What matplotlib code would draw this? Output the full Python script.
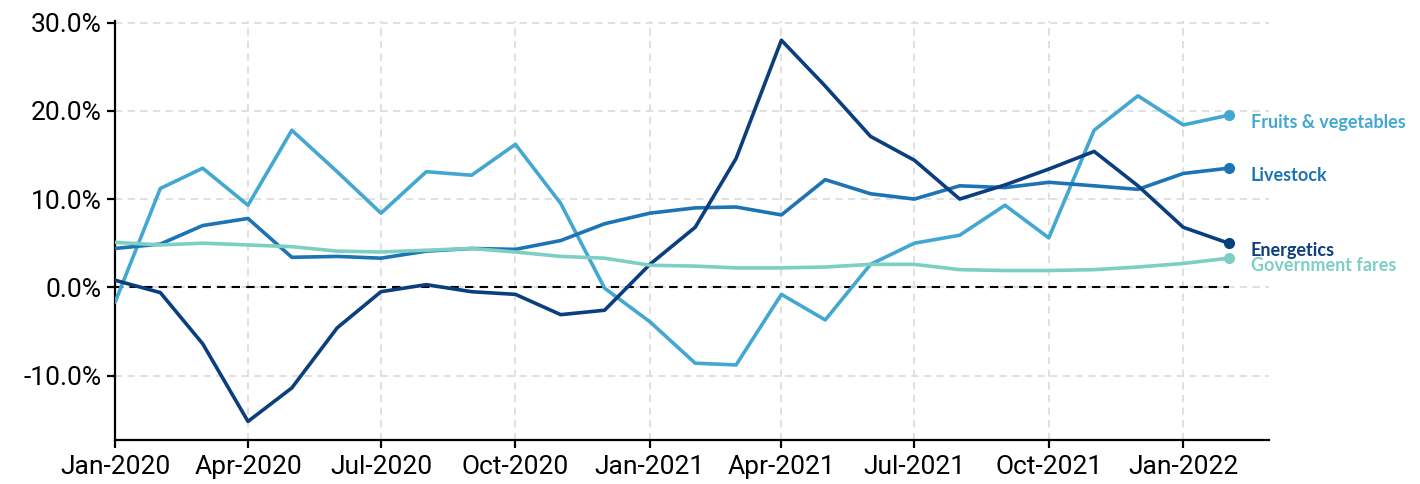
import numpy as np
import pandas as pd
import matplotlib
matplotlib.use("Agg")
import matplotlib.pyplot as plt
import matplotlib.dates as mdates
from matplotlib.ticker import FuncFormatter

# monthly year-over-year change, Jan-2020 .. Feb-2022
months = pd.date_range("2020-01-01", "2022-02-01", freq="MS")

fruits_veg = [-1.7, 11.2, 13.5, 9.3, 17.8, 13.1, 8.4, 13.1, 12.7, 16.2, 9.5, -0.1,
              -3.9, -8.6, -8.8, -0.8, -3.7, 2.6, 5.0, 5.9, 9.3, 5.6, 17.8, 21.7,
              18.4, 19.5]
livestock = [4.4, 4.9, 7.0, 7.8, 3.4, 3.5, 3.3, 4.1, 4.4, 4.3, 5.3, 7.2,
             8.4, 9.0, 9.1, 8.2, 12.2, 10.6, 10.0, 11.5, 11.3, 11.9, 11.5, 11.1,
             12.9, 13.5]
energetics = [0.8, -0.6, -6.4, -15.2, -11.4, -4.6, -0.5, 0.3, -0.5, -0.8, -3.1, -2.6,
              2.6, 6.8, 14.6, 28.0, 22.8, 17.1, 14.4, 10.0, 11.6, 13.4, 15.4, 11.5,
              6.8, 5.0]
gov_fares = [5.1, 4.8, 5.0, 4.8, 4.6, 4.1, 4.0, 4.2, 4.4, 4.0, 3.5, 3.3,
             2.5, 2.4, 2.2, 2.2, 2.3, 2.6, 2.6, 2.0, 1.9, 1.9, 2.0, 2.3,
             2.7, 3.3]

series = [
    ("Fruits & vegetables", fruits_veg, "#43a8d1"),
    ("Livestock", livestock, "#1c74b4"),
    ("Energetics", energetics, "#0b3e7f"),
    ("Government fares", gov_fares, "#7dcfc4"),
]

plt.rcParams["font.family"] = ["Roboto", "DejaVu Sans"]

fig = plt.figure(figsize=(14.2, 4.84), dpi=100)
ax = fig.add_axes([0.081, 0.091, 0.813, 0.866])

ax.plot(months, np.zeros(len(months)), color="black", lw=1.5, ls=(0, (4, 3)), zorder=2)

for name, vals, col in series:
    ax.plot(months, vals, color=col, lw=2.6, zorder=3, solid_capstyle="round")
    ax.plot(months[-1], vals[-1], "o", color=col, ms=7, zorder=4)
    ax.annotate(name, (mdates.date2num(months[-1]), vals[-1]), xytext=(16, -5),
                textcoords="offset points", va="center", ha="left",
                color=col, fontsize=13, fontweight="bold", family=["Lato", "DejaVu Sans"])

ax.set_xlim(mdates.date2num(pd.Timestamp("2020-01-01")),
            mdates.date2num(pd.Timestamp("2022-02-28")) + 1)
ax.set_ylim(-17.3, 30.2)
ax.set_yticks([-10, 0, 10, 20, 30])
ax.yaxis.set_major_formatter(FuncFormatter(lambda v, p: f"{v:.1f}%"))
ax.xaxis.set_major_locator(mdates.MonthLocator(bymonth=[1, 4, 7, 10]))
ax.xaxis.set_major_formatter(mdates.DateFormatter("%b-%Y"))

ax.grid(True, color="#dddddd", ls=(0, (4, 3)), lw=1.3, zorder=0)
ax.spines["top"].set_visible(False)
ax.spines["right"].set_visible(False)
for s in ("left", "bottom"):
    ax.spines[s].set_linewidth(1.6)
ax.tick_params(axis="both", labelsize=19, length=6, width=1.6)
ax.tick_params(axis="x", pad=5)

fig.savefig("out.png", dpi=100)
